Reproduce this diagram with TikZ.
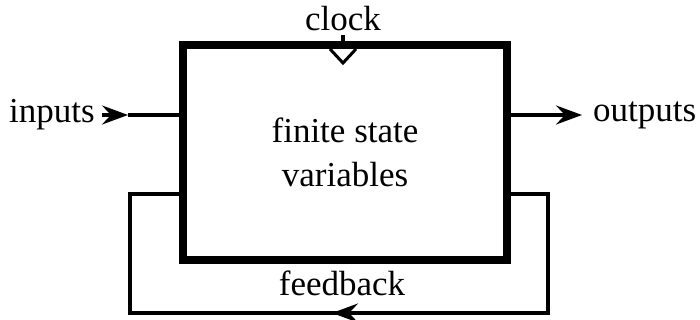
\documentclass[tikz,border=0pt]{standalone}
\usepackage{fontspec}
\setmainfont{Liberation Serif}
\usetikzlibrary{arrows.meta}
\begin{document}
\begin{tikzpicture}[x=1pt,y=-1pt,
  lbl/.style={font=\fontsize{35}{40}\selectfont, inner sep=0pt},
  wire/.style={line width=3.4pt},
  tip/.style={-{Stealth[length=26pt,width=19pt,inset=9pt]}}]
\useasboundingbox (0,0) rectangle (700,320);
\node[draw, line width=7.5pt, minimum width=324pt, minimum height=215pt, inner sep=0pt] (box) at (345,152.5) {};
\node[lbl, align=center] (txt) at (345,152) {finite state\\[4pt]variables};
\node[lbl] (clk) at (343,19) {clock};
\node[lbl, anchor=west] (in) at (9,115) {inputs};
\node[lbl, anchor=west] (out) at (593,115) {outputs};
\node[lbl] (fb) at (342,283) {feedback};
% clock
\coordinate (ct) at (343,35);
\coordinate (cb) at (343,45);
\draw[wire] (ct) -- (cb);
\draw[line width=3pt, line join=miter] (330,49) -- (343,63) -- (356,49);
% inputs
\coordinate (ia) at (102,115);
\coordinate (ib) at (128,115);
\draw[wire, tip] (ia) -- (ib);
\draw[wire] (ib) -- (box.west |- ib);
% outputs
\coordinate (oa) at (507,115);
\coordinate (ob) at (582,115);
\draw[wire, tip] (oa) -- (ob);
% feedback
\coordinate (f1) at (507,194);
\coordinate (f2) at (548,194);
\coordinate (f3) at (548,313);
\coordinate (f4) at (130,313);
\coordinate (f5) at (130,194);
\coordinate (f6) at (183,194);
\coordinate (fm) at (332,313);
\draw[wire, line join=miter] (f1) -- (f2) -- (f3) -- (f4) -- (f5) -- (f6);
\draw[wire, tip] (358,313) -- (fm);
\end{tikzpicture}
\end{document}
